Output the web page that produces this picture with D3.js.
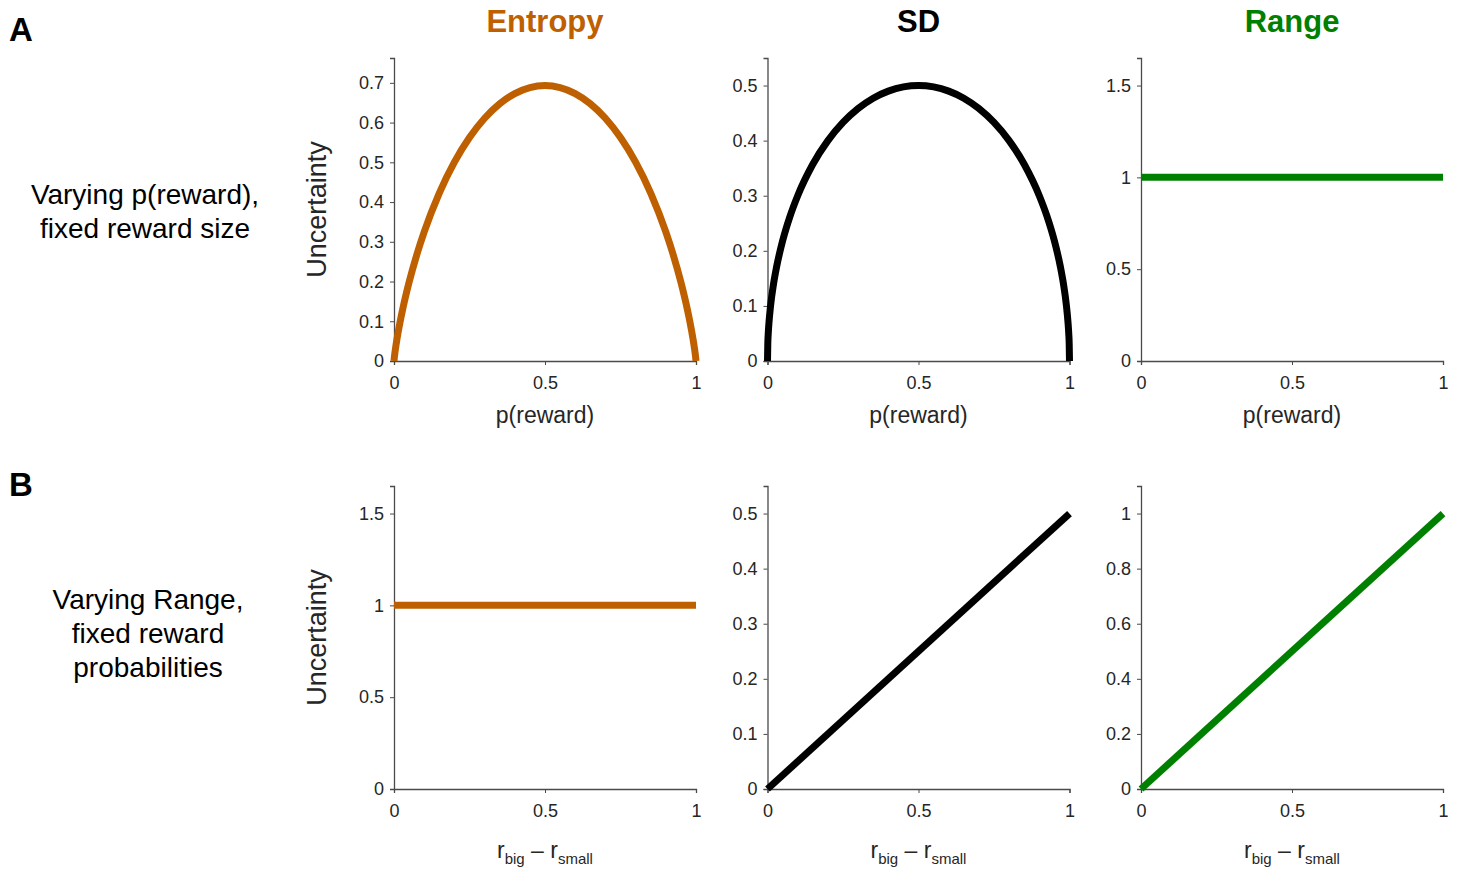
<!DOCTYPE html>
<html><head><meta charset="utf-8">
<script src="https://cdn.jsdelivr.net/npm/d3@7"></script>
<style>body{margin:0;background:#fff}svg{display:block}</style>
</head><body><svg id="c" width="1457" height="869"></svg>
<script>
// ---- data ----
const columns = ["Entropy", "SD", "Range"];
const columnColors = ["#bf6000", "#000000", "#008000"];
const rowLabels = [["Varying p(reward),", "fixed reward size"], ["Varying Range,", "fixed reward", "probabilities"]];
const panelLetters = ["A", "B"];
const pReward = [0, 0.001, 0.0025, 0.005, 0.01, 0.02, 0.03, 0.05, 0.075, 0.1, 0.15, 0.2, 0.25, 0.3, 0.35, 0.4, 0.45, 0.5,
  0.55, 0.6, 0.65, 0.7, 0.75, 0.8, 0.85, 0.9, 0.925, 0.95, 0.97, 0.98, 0.99, 0.995, 0.9975, 0.999, 1];
const entropyA = [0, 0.0079, 0.0175, 0.0315, 0.0560, 0.0980, 0.1347, 0.1985, 0.2664, 0.3251, 0.4227, 0.5004, 0.5623, 0.6109, 0.6474, 0.6730, 0.6881, 0.6931,
  0.6881, 0.6730, 0.6474, 0.6109, 0.5623, 0.5004, 0.4227, 0.3251, 0.2664, 0.1985, 0.1347, 0.0980, 0.0560, 0.0315, 0.0175, 0.0079, 0];
const sdA = [0, 0.0316, 0.0499, 0.0705, 0.0995, 0.1400, 0.1706, 0.2179, 0.2634, 0.3000, 0.3571, 0.4000, 0.4330, 0.4583, 0.4770, 0.4899, 0.4975, 0.5000,
  0.4975, 0.4899, 0.4770, 0.4583, 0.4330, 0.4000, 0.3571, 0.3000, 0.2634, 0.2179, 0.1706, 0.1400, 0.0995, 0.0705, 0.0499, 0.0316, 0];
const pFlat = [0, 1];
const rangeA = [1, 1];
const rangeDiff = [0, 1];
const entropyB = [1, 1];
const sdB = [0, 0.5];
const rangeB = [0, 1];
const yMaxes = [[0.7625, 0.55, 1.65], [1.65, 0.55, 1.1]];
const yTicks = [[[0, 0.1, 0.2, 0.3, 0.4, 0.5, 0.6, 0.7], [0, 0.1, 0.2, 0.3, 0.4, 0.5], [0, 0.5, 1, 1.5]],
                [[0, 0.5, 1, 1.5], [0, 0.1, 0.2, 0.3, 0.4, 0.5], [0, 0.2, 0.4, 0.6, 0.8, 1]]];
const xTicks = [0, 0.5, 1];

const series = [
  [{x: pReward, y: entropyA}, {x: pReward, y: sdA}, {x: pFlat, y: rangeA}],
  [{x: rangeDiff, y: entropyB}, {x: rangeDiff, y: sdB}, {x: rangeDiff, y: rangeB}]
];

// ---- layout ----
const svg = d3.select("#c");
const colX = [394, 767.5, 1141];
const rowY = [58, 486];
const W = 302, H = 303;
const axisColor = "#262626";
const lineColor = "#4a4a4a";
const font = "'Liberation Sans', Arial, Helvetica, sans-serif";

function fmt(v) { return String(+v.toFixed(2)); }

for (let r = 0; r < 2; r++) {
  for (let c = 0; c < 3; c++) {
    const g = svg.append("g").attr("transform", `translate(${colX[c]},${rowY[r]})`);
    const x = d3.scaleLinear().domain([0, 1]).range([0, W]);
    const y = d3.scaleLinear().domain([0, yMaxes[r][c]]).range([H, 0]);

    const xa = g.append("g").attr("transform", `translate(0,${H})`)
      .call(d3.axisBottom(x).tickValues(xTicks).tickFormat(fmt).tickSizeOuter(0).tickSize(4).tickPadding(11));
    const ya = g.append("g")
      .call(d3.axisLeft(y).tickValues(yTicks[r][c]).tickFormat(fmt).tickSizeOuter(0).tickSize(4).tickPadding(6));
    [xa, ya].forEach(a => {
      a.select(".domain").attr("stroke", lineColor).attr("stroke-width", 1.3);
      a.selectAll(".tick line").attr("stroke", lineColor).attr("stroke-width", 1);
      a.selectAll(".tick text").attr("fill", axisColor).style("font-family", font).style("font-size", "18px");
    });

    const s = series[r][c];
    const pts = s.x.map((xv, i) => [xv, s.y[i]]);
    g.append("path").datum(pts)
      .attr("fill", "none").attr("stroke", columnColors[c]).attr("stroke-width", 7)
      .attr("stroke-linecap", "butt")
      .attr("d", d3.line().x(d => x(d[0])).y(d => y(d[1])).curve(d3.curveMonotoneX));

    // x label
    if (r === 0) {
      g.append("text").attr("x", W / 2).attr("y", H + 62).attr("text-anchor", "middle")
        .attr("fill", axisColor).style("font-family", font).style("font-size", "23px").text("p(reward)");
    } else {
      const t = g.append("text").attr("x", W / 2).attr("y", H + 69).attr("text-anchor", "middle")
        .attr("fill", axisColor).style("font-family", font).style("font-size", "23px");
      t.append("tspan").text("r");
      t.append("tspan").attr("dy", 6).style("font-size", "15px").text("big");
      t.append("tspan").attr("dy", -6).text(" \u2013 r");
      t.append("tspan").attr("dy", 6).style("font-size", "15px").text("small");
    }
    if (c === 0) {
      g.append("text").attr("transform", `translate(-68,${H / 2}) rotate(-90)`)
        .attr("text-anchor", "middle").attr("fill", axisColor)
        .style("font-family", font).style("font-size", "27px").text("Uncertainty");
    }
    if (r === 0) {
      g.append("text").attr("x", W / 2).attr("y", -26).attr("text-anchor", "middle")
        .attr("fill", columnColors[c]).style("font-family", font).style("font-weight", "bold")
        .style("font-size", "31px").text(columns[c]);
    }
  }
}

// row labels
const rowLabelCenter = [[145, 204], [148, 609]];
rowLabels.forEach((lines, r) => {
  lines.forEach((ln, i) => {
    svg.append("text").attr("x", rowLabelCenter[r][0]).attr("y", rowLabelCenter[r][1] + i * 34)
      .attr("text-anchor", "middle").attr("fill", "#000")
      .style("font-family", font).style("font-size", "28px").text(ln);
  });
});
panelLetters.forEach((L, r) => {
  svg.append("text").attr("x", 9).attr("y", [41, 496][r]).attr("fill", "#000")
    .style("font-family", font).style("font-weight", "bold").style("font-size", "33px").text(L);
});
</script></body></html>
